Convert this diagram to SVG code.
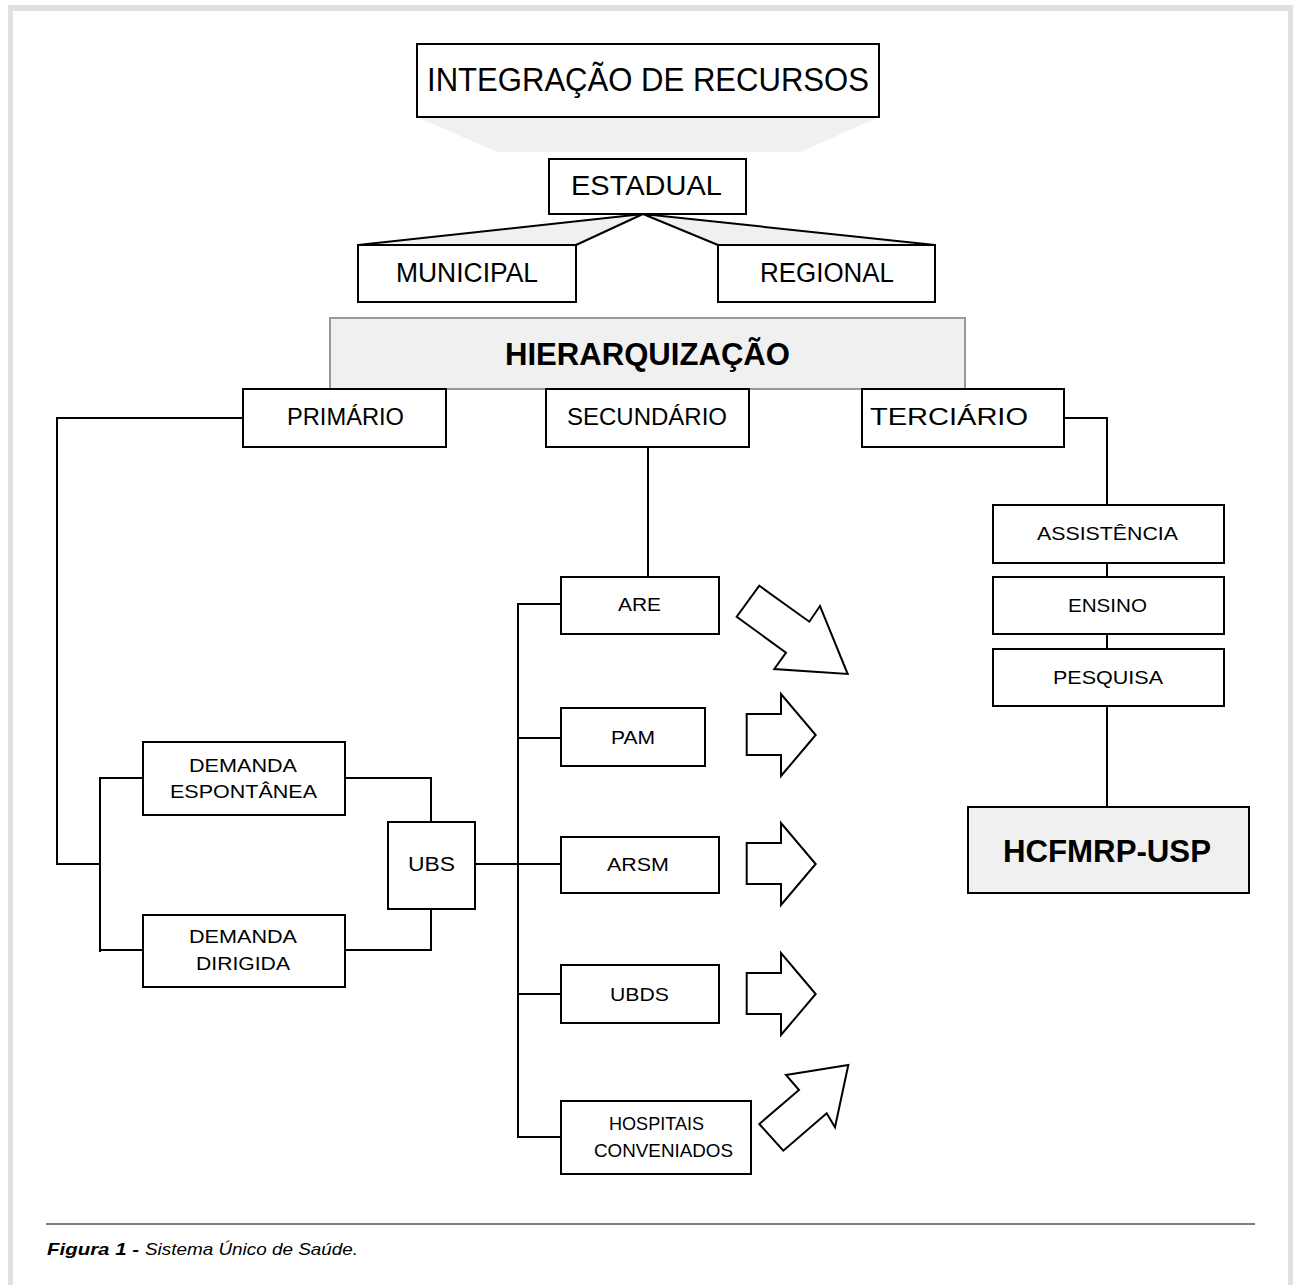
<svg xmlns="http://www.w3.org/2000/svg" width="1293" height="1285" viewBox="0 0 1293 1285">
<style>
.box{fill:#fff;stroke:#000;stroke-width:2}
.shade{fill:#f0f0f0;stroke:#000;stroke-width:2}
.ln{fill:none;stroke:#000;stroke-width:2}
.arr{fill:#fff;stroke:#000;stroke-width:2;stroke-linejoin:miter}
text{font-family:"Liberation Sans",Arial,sans-serif;fill:#000}
.b{font-weight:bold}
</style>
<rect x="0" y="0" width="1293" height="1285" fill="#fff"/>
<g id="frame" fill="#e0e0e0">
<rect x="8" y="5" width="1285" height="6"/>
<rect x="8" y="5" width="5" height="1280"/>
<rect x="1288" y="5" width="5" height="1280"/>
</g>
<g id="connectors">
<polygon points="417,117 879,117 800,152 497,152" fill="#f0f0f0"/>
<polygon points="643,214 358,245 576,245" fill="#f0f0f0"/>
<polygon points="643,214 935,245 718,245" fill="#f0f0f0"/>
<polyline class="ln" points="358,245 643,214 576,245"/>
<polyline class="ln" points="935,245 643,214 718,245"/>
<polyline class="ln" points="243,418 57,418 57,864 101,864"/>
<line class="ln" x1="100" y1="777" x2="100" y2="952"/>
<line class="ln" x1="100" y1="778" x2="143" y2="778"/>
<line class="ln" x1="100" y1="950" x2="143" y2="950"/>
<polyline class="ln" points="345,778 431,778 431,822"/>
<polyline class="ln" points="345,950 431,950 431,909"/>
<line class="ln" x1="475" y1="864" x2="561" y2="864"/>
<line class="ln" x1="648" y1="447" x2="648" y2="577"/>
<line class="ln" x1="518" y1="603" x2="518" y2="1138"/>
<line class="ln" x1="518" y1="604" x2="561" y2="604"/>
<line class="ln" x1="518" y1="738" x2="561" y2="738"/>
<line class="ln" x1="518" y1="994" x2="561" y2="994"/>
<line class="ln" x1="518" y1="1137" x2="561" y2="1137"/>
<polyline class="ln" points="1064,418 1107,418 1107,505"/>
<line class="ln" x1="1107" y1="563" x2="1107" y2="577"/>
<line class="ln" x1="1107" y1="634" x2="1107" y2="649"/>
<line class="ln" x1="1107" y1="706" x2="1107" y2="807"/>
</g>
<g id="integracao">
<rect class="box" x="417" y="44" width="462" height="73"/>
<text x="427" y="91" font-size="33" textLength="442" lengthAdjust="spacingAndGlyphs">INTEGRAÇÃO DE RECURSOS</text>
</g>
<g id="estadual">
<rect class="box" x="549" y="159" width="197" height="55"/>
<text x="571" y="195" font-size="28" textLength="151" lengthAdjust="spacingAndGlyphs">ESTADUAL</text>
</g>
<g id="municipal">
<rect class="box" x="358" y="245" width="218" height="57"/>
<text x="396" y="282" font-size="27" textLength="142" lengthAdjust="spacingAndGlyphs">MUNICIPAL</text>
</g>
<g id="regional">
<rect class="box" x="718" y="245" width="217" height="57"/>
<text x="760" y="282" font-size="27" textLength="134" lengthAdjust="spacingAndGlyphs">REGIONAL</text>
</g>
<g id="hierarquizacao">
<rect x="330" y="318" width="635" height="71" fill="#f0f0f0" stroke="#999" stroke-width="2"/>
<text class="b" x="505" y="365" font-size="31" textLength="285" lengthAdjust="spacingAndGlyphs">HIERARQUIZAÇÃO</text>
</g>
<g id="primario">
<rect class="box" x="243" y="389" width="203" height="58"/>
<text x="287" y="425" font-size="23" textLength="117" lengthAdjust="spacingAndGlyphs">PRIMÁRIO</text>
</g>
<g id="secundario">
<rect class="box" x="546" y="389" width="203" height="58"/>
<text x="567" y="425" font-size="23" textLength="160" lengthAdjust="spacingAndGlyphs">SECUNDÁRIO</text>
</g>
<g id="terciario">
<rect class="box" x="862" y="389" width="202" height="58"/>
<text x="870" y="425" font-size="23" textLength="158" lengthAdjust="spacingAndGlyphs">TERCIÁRIO</text>
</g>
<g id="are">
<rect class="box" x="561" y="577" width="158" height="57"/>
<text x="618" y="611" font-size="19" textLength="43" lengthAdjust="spacingAndGlyphs">ARE</text>
</g>
<g id="pam">
<rect class="box" x="561" y="708" width="144" height="58"/>
<text x="611" y="744" font-size="19" textLength="44" lengthAdjust="spacingAndGlyphs">PAM</text>
</g>
<g id="arsm">
<rect class="box" x="561" y="837" width="158" height="56"/>
<text x="607" y="871" font-size="19" textLength="62" lengthAdjust="spacingAndGlyphs">ARSM</text>
</g>
<g id="ubds">
<rect class="box" x="561" y="965" width="158" height="58"/>
<text x="610" y="1001" font-size="19" textLength="59" lengthAdjust="spacingAndGlyphs">UBDS</text>
</g>
<g id="hospitais">
<rect class="box" x="561" y="1101" width="190" height="73"/>
<text x="609" y="1130" font-size="19" textLength="95" lengthAdjust="spacingAndGlyphs">HOSPITAIS</text>
<text x="594" y="1157" font-size="19" textLength="139" lengthAdjust="spacingAndGlyphs">CONVENIADOS</text>
</g>
<g id="demanda-espontanea">
<rect class="box" x="143" y="742" width="202" height="73"/>
<text x="189" y="772" font-size="19" textLength="108" lengthAdjust="spacingAndGlyphs">DEMANDA</text>
<text x="170" y="798" font-size="19" textLength="147" lengthAdjust="spacingAndGlyphs">ESPONTÂNEA</text>
</g>
<g id="demanda-dirigida">
<rect class="box" x="143" y="915" width="202" height="72"/>
<text x="189" y="943" font-size="19" textLength="108" lengthAdjust="spacingAndGlyphs">DEMANDA</text>
<text x="196" y="970" font-size="19" textLength="94" lengthAdjust="spacingAndGlyphs">DIRIGIDA</text>
</g>
<g id="ubs">
<rect class="box" x="388" y="822" width="87" height="87"/>
<text x="408" y="871" font-size="20" textLength="47" lengthAdjust="spacingAndGlyphs">UBS</text>
</g>
<g id="assistencia">
<rect class="box" x="993" y="505" width="231" height="58"/>
<text x="1037" y="540" font-size="18" textLength="141" lengthAdjust="spacingAndGlyphs">ASSISTÊNCIA</text>
</g>
<g id="ensino">
<rect class="box" x="993" y="577" width="231" height="57"/>
<text x="1068" y="612" font-size="18" textLength="79" lengthAdjust="spacingAndGlyphs">ENSINO</text>
</g>
<g id="pesquisa">
<rect class="box" x="993" y="649" width="231" height="57"/>
<text x="1053" y="684" font-size="18" textLength="110" lengthAdjust="spacingAndGlyphs">PESQUISA</text>
</g>
<g id="hcfmrp">
<rect class="shade" x="968" y="807" width="281" height="86"/>
<text class="b" x="1003" y="862" font-size="31" textLength="208" lengthAdjust="spacingAndGlyphs">HCFMRP-USP</text>
</g>
<g id="arrows">
<polygon class="arr" points="759.3,585.7 809.3,621.7 820,606 847.7,674 774.3,669 786,652.7 736.7,616.7"/>
<polygon class="arr" points="746.7,714 781,714 781,694 815.7,735 781,776 781,755 746.7,755"/>
<polygon class="arr" points="746.7,843 781,843 781,823 815.7,864 781,905 781,884 746.7,884"/>
<polygon class="arr" points="746.7,973 781,973 781,953 815.7,994 781,1035 781,1014 746.7,1014"/>
<polygon class="arr" points="848.3,1065 835,1127.3 826.7,1113.3 783.3,1150.7 759.3,1124 799,1090 786,1075"/>
</g>
<g id="caption">
<line x1="46" y1="1224" x2="1255" y2="1224" stroke="#000" stroke-width="1"/>
<text class="b" x="47" y="1255" font-size="17" font-style="italic" textLength="92" lengthAdjust="spacingAndGlyphs">Figura 1 -</text>
<text x="145" y="1255" font-size="17" font-style="italic" textLength="213" lengthAdjust="spacingAndGlyphs">Sistema Único de Saúde.</text>
</g>
</svg>
